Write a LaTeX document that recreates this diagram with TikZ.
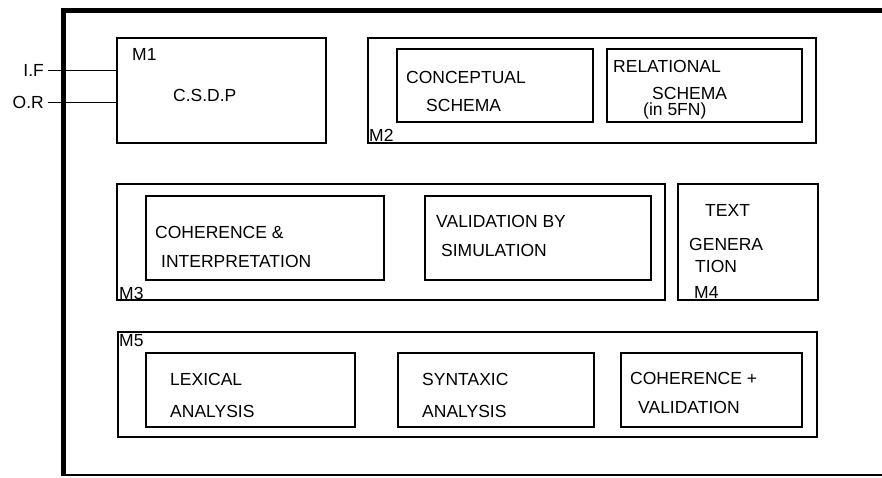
\documentclass[tikz,border=0pt]{standalone}
\usepackage{fontspec}
\setmainfont{Liberation Sans}

\begin{document}
\begin{tikzpicture}[x=1pt, y=-1pt,
    module/.style={draw, line width=1.1pt, inner sep=0pt},
    task/.style={draw, line width=1.1pt, inner sep=0pt},
    txt/.style={anchor=base west, inner sep=0pt, font=\fontsize{17.5}{20}\selectfont},
    port/.style={anchor=east, inner sep=4pt, font=\fontsize{17.5}{20}\selectfont}
    ]
    \useasboundingbox (0,0) rectangle (882,477);
    % frame
    \draw[line width=5pt] (882,10) -- (63,10) -- (63,476);
    \draw[line width=1.5pt] (63,475) -- (882,475);

    % M1
    \node[module, minimum width=209pt, minimum height=105pt] (m1) at (221.5, 90.5) {};
    \node[txt] (m1tag) at (132, 60) {M1};
    \node[txt] (csdp) at (173, 101) {C.S.D.P};
    \node[port] (inf) at (48, 70) {I.F};
    \node[port] (outr) at (48, 102) {O.R};
    \draw[line width=1pt] (inf.east) -- (inf.east -| m1.west);
    \draw[line width=1pt] (outr.east) -- (outr.east -| m1.west);

    % M2
    \node[module, minimum width=448pt, minimum height=105pt] (m2) at (592, 90.5) {};
    \node[task, minimum width=196pt, minimum height=73pt] (concept) at (495, 85.5) {};
    \node[task, minimum width=195pt, minimum height=73pt] (relat) at (704.5, 85.5) {};
    \node[txt] (concepta) at (406, 83) {CONCEPTUAL};
    \node[txt] (conceptb) at (426, 111) {SCHEMA};
    \node[txt] (relata) at (613, 72) {RELATIONAL};
    \node[txt] (relatb) at (652, 99) {SCHEMA};
    \node[txt] (relatc) at (643, 115.5) {(in 5FN)};
    \node[txt] (m2tag) at (369, 141) {M2};

    % M3 and M4
    \node[module, minimum width=548pt, minimum height=116pt] (m3) at (391, 242) {};
    \node[task, minimum width=238pt, minimum height=84pt] (coher) at (265, 238) {};
    \node[task, minimum width=226pt, minimum height=84pt] (valid) at (538, 238) {};
    \node[txt] (cohera) at (155, 238) {COHERENCE \&};
    \node[txt] (coherb) at (161, 267) {INTERPRETATION};
    \node[txt] (valida) at (436, 227) {VALIDATION BY};
    \node[txt] (validb) at (441, 256) {SIMULATION};
    \node[txt] (m3tag) at (119, 299) {M3};
    \node[module, minimum width=140pt, minimum height=116pt] (m4) at (748, 242) {};
    \node[txt] (gena) at (705, 216) {TEXT};
    \node[txt] (genb) at (689, 250) {GENERA};
    \node[txt] (genc) at (695, 272) {TION};
    \node[txt] (m4tag) at (694, 298) {M4};

    % M5
    \node[module, minimum width=699pt, minimum height=105pt] (m5) at (467.5, 384.5) {};
    \node[task, minimum width=209pt, minimum height=74pt] (lex) at (250.5, 390) {};
    \node[task, minimum width=196pt, minimum height=74pt] (syn) at (496, 390) {};
    \node[task, minimum width=181pt, minimum height=74pt] (cohval) at (711.5, 390) {};
    \node[txt] (m5tag) at (119, 346) {M5};
    \node[txt] (lexa) at (170, 385) {LEXICAL};
    \node[txt] (lexb) at (170, 417) {ANALYSIS};
    \node[txt] (syna) at (422, 385) {SYNTAXIC};
    \node[txt] (synb) at (422, 417) {ANALYSIS};
    \node[txt] (cohvala) at (630, 384) {COHERENCE +};
    \node[txt] (cohvalb) at (638, 413) {VALIDATION};
\end{tikzpicture}
\end{document}
